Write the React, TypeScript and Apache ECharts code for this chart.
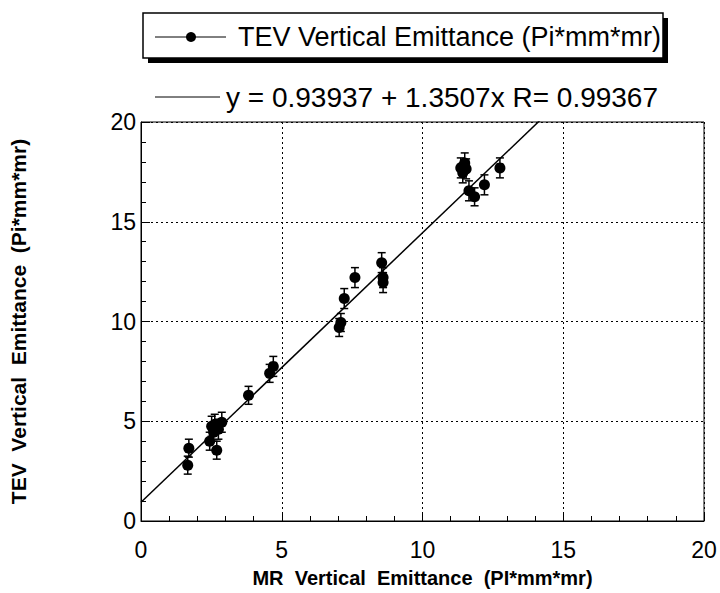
import React, { useEffect, useRef } from "react";
import * as echarts from "echarts";

const mrEmittance = [1.66, 1.7, 2.44, 2.58, 2.51, 2.62, 2.87, 2.69, 2.75, 3.82, 4.57, 4.7, 7.04, 7.1, 7.22, 7.6, 8.55, 8.6, 8.6, 11.36, 11.5, 11.43, 11.55, 11.65, 11.85, 12.2, 12.75];
const tevEmittance = [2.8, 3.65, 4.0, 4.45, 4.75, 4.85, 4.95, 3.55, 4.6, 6.3, 7.4, 7.75, 9.7, 9.95, 11.15, 12.2, 12.95, 12.2, 11.95, 17.7, 17.95, 17.45, 17.65, 16.55, 16.25, 16.85, 17.7];
const tevError = [0.45, 0.45, 0.45, 0.45, 0.5, 0.5, 0.5, 0.45, 0.5, 0.45, 0.45, 0.5, 0.45, 0.45, 0.5, 0.5, 0.5, 0.5, 0.5, 0.5, 0.5, 0.5, 0.5, 0.5, 0.45, 0.5, 0.5];
const fitIntercept = 0.93937;
const fitSlope = 1.3507;
const fitR = 0.99367;
const fitXRange = [0, 20];
const axisTicks = [0, 5, 10, 15, 20];

const FONT = "Liberation Sans";

export default function App() {
  const ref = useRef<HTMLDivElement>(null);
  useEffect(() => {
    if (!ref.current) return;
    const chart = echarts.init(ref.current, null, { renderer: "svg" });
    const points = mrEmittance.map((x, i) => [x, tevEmittance[i], tevError[i]]);
    const fitLine = fitXRange.map((x) => [x, fitIntercept + fitSlope * x]);
    const axisCommon = {
      type: "value",
      min: axisTicks[0],
      max: axisTicks[axisTicks.length - 1],
      interval: 5,
      axisLine: { show: true, lineStyle: { color: "#000", width: 1 } },
      axisTick: { show: true, inside: true, length: 9, lineStyle: { color: "#000", width: 1 } },
      minorTick: { show: true, splitNumber: 5, length: 5, lineStyle: { color: "#000", width: 1 } },
      splitLine: { show: true, lineStyle: { color: "#000", type: [2, 3], width: 1 } },
      nameLocation: "middle",
    };
    chart.setOption({
      animation: false,
      backgroundColor: "#fff",
      grid: { left: 139, top: 122, right: 16, bottom: 71, show: true, borderColor: "#000", borderWidth: 1, backgroundColor: "transparent" },
      xAxis: {
        ...axisCommon,
        name: "MR  Vertical  Emittance  (PI*mm*mr)",
        nameGap: 47,
        nameTextStyle: { color: "#000", fontFamily: FONT, fontSize: 20, fontWeight: "bold" },
        axisLabel: { color: "#000", fontFamily: FONT, fontSize: 23, margin: 17 },
      },
      yAxis: {
        ...axisCommon,
        name: "TEV  Vertical  Emittance  (Pi*mm*mr)",
        nameGap: 112,
        nameRotate: 90,
        nameTextStyle: { color: "#000", fontFamily: FONT, fontSize: 21, fontWeight: "bold" },
        axisLabel: { color: "#000", fontFamily: FONT, fontSize: 23, margin: 5 },
      },
      series: [
        {
          type: "line",
          data: fitLine,
          showSymbol: false,
          clip: true,
          lineStyle: { color: "#000", width: 1.5 },
          z: 2,
        },
        {
          type: "custom",
          data: points,
          renderItem: (params: any, api: any) => {
            const x = api.value(0);
            const y = api.value(1);
            const e = api.value(2);
            const lo = api.coord([x, y - e]);
            const hi = api.coord([x, y + e]);
            const style = { stroke: "#000", lineWidth: 1.5 };
            return {
              type: "group",
              children: [
                { type: "line", shape: { x1: lo[0], y1: lo[1], x2: hi[0], y2: hi[1] }, style },
                { type: "line", shape: { x1: lo[0] - 4, y1: lo[1], x2: lo[0] + 4, y2: lo[1] }, style },
                { type: "line", shape: { x1: hi[0] - 4, y1: hi[1], x2: hi[0] + 4, y2: hi[1] }, style },
              ],
            };
          },
          z: 3,
        },
        {
          type: "scatter",
          data: points.map((p) => [p[0], p[1]]),
          symbol: "circle",
          symbolSize: 11,
          itemStyle: { color: "#000", opacity: 1 },
          z: 4,
        },
      ],
      graphic: [
        { type: "rect", shape: { x: 148, y: 18, width: 520, height: 45 }, style: { fill: "#000" } },
        { type: "rect", shape: { x: 143, y: 13, width: 520, height: 45 }, style: { fill: "#fff", stroke: "#000", lineWidth: 1.5 } },
        { type: "line", shape: { x1: 155, y1: 37, x2: 226, y2: 37 }, style: { stroke: "#000", lineWidth: 1 } },
        { type: "circle", shape: { cx: 191, cy: 37, r: 5 }, style: { fill: "#000" } },
        { type: "text", style: { x: 238, y: 37, text: "TEV Vertical Emittance (Pi*mm*mr)", font: `27px "${FONT}"`, fill: "#000", verticalAlign: "middle" } },
        { type: "line", shape: { x1: 155, y1: 97, x2: 220, y2: 97 }, style: { stroke: "#000", lineWidth: 1 } },
        { type: "text", style: { x: 226, y: 97, text: `y = ${fitIntercept} + ${fitSlope}x R= ${fitR}`, font: `28px "${FONT}"`, fill: "#000", verticalAlign: "middle" } },
      ],
    });
    return () => chart.dispose();
  }, []);
  return <div ref={ref} style={{ position: "fixed", left: 0, top: 0, width: 720, height: 593 }} />;
}
